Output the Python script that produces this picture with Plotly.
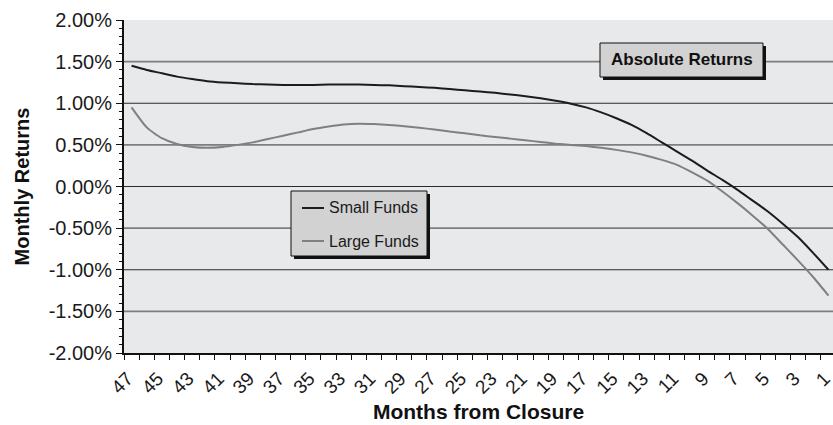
import plotly.graph_objects as go

# Months before fund closure (category axis runs from 47 down to 1)
months = list(range(47, 0, -1))

# Average monthly returns, in percent
small_funds = [1.45, 1.40, 1.36, 1.32, 1.29, 1.265, 1.25, 1.24, 1.23, 1.225,
               1.22, 1.22, 1.22, 1.225, 1.225, 1.225, 1.22, 1.215, 1.205, 1.195,
               1.185, 1.17, 1.155, 1.14, 1.125, 1.105, 1.085, 1.06, 1.03, 0.995,
               0.95, 0.89, 0.82, 0.74, 0.64, 0.53, 0.42, 0.31, 0.19, 0.08,
               -0.04, -0.17, -0.30, -0.45, -0.61, -0.80, -1.00]
large_funds = [0.95, 0.71, 0.58, 0.51, 0.475, 0.465, 0.475, 0.50, 0.53, 0.57,
               0.61, 0.65, 0.69, 0.72, 0.745, 0.755, 0.75, 0.74, 0.725, 0.705,
               0.685, 0.66, 0.64, 0.615, 0.595, 0.575, 0.555, 0.535, 0.515, 0.50,
               0.485, 0.465, 0.44, 0.41, 0.37, 0.32, 0.26, 0.17, 0.07, -0.06,
               -0.20, -0.35, -0.51, -0.70, -0.89, -1.09, -1.31]

y_ticks = [2.0, 1.5, 1.0, 0.5, 0.0, -0.5, -1.0, -1.5, -2.0]
series_names = ["Small Funds", "Large Funds"]
series_colors = ["#1c1c1c", "#808080"]
chart_label = "Absolute Returns"

W, H = 833, 425
ML, MR, MT, MB = 124, 0, 20, 72
PW, PH = W - ML - MR, H - MT - MB
FONT = "Arial, 'Liberation Sans', sans-serif"


def px(x):
    return (x - ML) / PW


def py(y):
    return (H - MB - y) / PH


idx = list(range(len(months)))

fig = go.Figure()
for name, vals, col in zip(series_names, [small_funds, large_funds], series_colors):
    fig.add_trace(go.Scatter(
        x=idx, y=vals, mode="lines", name=name, showlegend=False,
        line=dict(color=col, width=2, shape="spline", smoothing=0.6),
        hoverinfo="skip"))

shapes = []
# horizontal gridlines: whole percents dark, half percents grey
for v in y_ticks:
    if v in (2.0, -2.0):
        continue
    whole = abs(v - round(v)) < 1e-9
    shapes.append(dict(type="line", xref="paper", yref="y", x0=0, x1=1, y0=v, y1=v,
                       line=dict(color="#2a2a2a" if whole else "#7e7e7e",
                                 width=1.2 if whole else 1.6),
                       layer="below"))


def shadow_box(x0, y0, x1, y1, off=3):
    shapes.append(dict(type="rect", xref="paper", yref="paper",
                       x0=px(x0 + off), x1=px(x1 + off), y0=py(y1 + off), y1=py(y0 + off),
                       fillcolor="#111111", line=dict(width=0), layer="above"))
    shapes.append(dict(type="rect", xref="paper", yref="paper",
                       x0=px(x0), x1=px(x1), y0=py(y1), y1=py(y0),
                       fillcolor="#d2d2d2", line=dict(color="#111111", width=1),
                       layer="above"))


# label box
shadow_box(600, 43, 763, 77)
# legend box
shadow_box(291, 191, 427, 256)
annotations = [dict(xref="paper", yref="paper", x=px(681.5), y=py(60), text=f"<b>{chart_label}</b>",
                    showarrow=False, font=dict(family=FONT, size=17, color="#111111"),
                    xanchor="center", yanchor="middle")]
for k, (name, col) in enumerate(zip(series_names, series_colors)):
    yy = 208 + 33 * k
    shapes.append(dict(type="line", xref="paper", yref="paper", x0=px(302), x1=px(324),
                       y0=py(yy), y1=py(yy), line=dict(color=col, width=2), layer="above"))
    annotations.append(dict(xref="paper", yref="paper", x=px(327), y=py(yy), text=name,
                            showarrow=False, xanchor="left", yanchor="middle",
                            font=dict(family=FONT, size=16, color="#1a1a1a")))

fig.update_layout(
    width=W, height=H,
    margin=dict(l=ML, r=MR, t=MT, b=MB, pad=0),
    paper_bgcolor="white", plot_bgcolor="#e8e9eb",
    font=dict(family=FONT, color="#1a1a1a"),
    shapes=shapes, annotations=annotations,
    xaxis=dict(
        range=[-0.5, 46.3], automargin=False,
        tickmode="array", tickvals=idx[::2], ticktext=[str(m) for m in months[::2]],
        tickangle=-45, ticks="outside", ticklen=5, tickcolor="rgba(0,0,0,0)",
        tickfont=dict(size=19, family=FONT, color="#1a1a1a"),
        ticklabeloverflow="allow", ticklabelshift=-4,
        showgrid=False, zeroline=False,
        showline=True, linecolor="#111111", linewidth=2,
        minor=dict(tickmode="array", tickvals=[i - 0.5 for i in range(len(months) + 1)],
                   ticks="outside", ticklen=5, tickcolor="#111111", tickwidth=1, showgrid=False),
        title=dict(text="<b>Months from Closure</b>", font=dict(size=21, family=FONT, color="#111111"),
                   standoff=8),
    ),
    yaxis=dict(
        range=[-2.0, 2.0], automargin=False,
        tickmode="array", tickvals=y_ticks, ticktext=[f"{v:.2f}%" for v in y_ticks],
        ticks="outside", ticklen=6, tickcolor="#111111", tickwidth=1,
        tickfont=dict(size=20, family=FONT, color="#1a1a1a"),
        showgrid=False, zeroline=False,
        showline=True, linecolor="#111111", linewidth=2,
        minor=dict(dtick=0.1, tick0=0, ticks="outside", ticklen=3, tickcolor="#111111",
                   tickwidth=1, showgrid=False),
        title=dict(text="<b>Monthly Returns</b>", font=dict(size=20, family=FONT, color="#111111"),
                   standoff=14),
    ),
)

fig.write_html("out.html")
